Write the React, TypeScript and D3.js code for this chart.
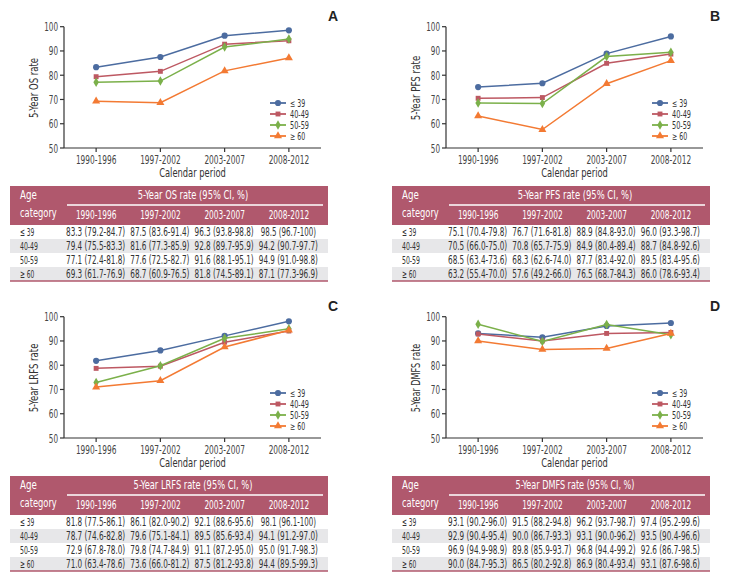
import React from "react";
import * as d3 from "d3";

const CATEGORIES = ["1990-1996", "1997-2002", "2003-2007", "2008-2012"];
const AGE_GROUPS = ["≤ 39", "40-49", "50-59", "≥ 60"];
const Y_TICKS = [50, 60, 70, 80, 90, 100];

const OS_VALUES = [
  [83.3, 87.5, 96.3, 98.5],
  [79.4, 81.6, 92.8, 94.2],
  [77.1, 77.6, 91.6, 94.9],
  [69.3, 68.7, 81.8, 87.1],
];
const OS_CI = [
  ["79.2-84.7", "83.6-91.4", "93.8-98.8", "96.7-100"],
  ["75.5-83.3", "77.3-85.9", "89.7-95.9", "90.7-97.7"],
  ["72.4-81.8", "72.5-82.7", "88.1-95.1", "91.0-98.8"],
  ["61.7-76.9", "60.9-76.5", "74.5-89.1", "77.3-96.9"],
];
const PFS_VALUES = [
  [75.1, 76.7, 88.9, 96.0],
  [70.5, 70.8, 84.9, 88.7],
  [68.5, 68.3, 87.7, 89.5],
  [63.2, 57.6, 76.5, 86.0],
];
const PFS_CI = [
  ["70.4-79.8", "71.6-81.8", "84.8-93.0", "93.3-98.7"],
  ["66.0-75.0", "65.7-75.9", "80.4-89.4", "84.8-92.6"],
  ["63.4-73.6", "62.6-74.0", "83.4-92.0", "83.4-95.6"],
  ["55.4-70.0", "49.2-66.0", "68.7-84.3", "78.6-93.4"],
];
const LRFS_VALUES = [
  [81.8, 86.1, 92.1, 98.1],
  [78.7, 79.6, 89.5, 94.1],
  [72.9, 79.8, 91.1, 95.0],
  [71.0, 73.6, 87.5, 94.4],
];
const LRFS_CI = [
  ["77.5-86.1", "82.0-90.2", "88.6-95.6", "96.1-100"],
  ["74.6-82.8", "75.1-84.1", "85.6-93.4", "91.2-97.0"],
  ["67.8-78.0", "74.7-84.9", "87.2-95.0", "91.7-98.3"],
  ["63.4-78.6", "66.0-81.2", "81.2-93.8", "89.5-99.3"],
];
const DMFS_VALUES = [
  [93.1, 91.5, 96.2, 97.4],
  [92.9, 90.0, 93.1, 93.5],
  [96.9, 89.8, 96.8, 92.6],
  [90.0, 86.5, 86.9, 93.1],
];
const DMFS_CI = [
  ["90.2-96.0", "88.2-94.8", "93.7-98.7", "95.2-99.6"],
  ["90.4-95.4", "86.7-93.3", "90.0-96.2", "90.4-96.6"],
  ["94.9-98.9", "85.9-93.7", "94.4-99.2", "86.7-98.5"],
  ["84.7-95.3", "80.2-92.8", "80.4-93.4", "87.6-98.6"],
];

const COLORS = ["#4c6ca0", "#bd5862", "#7bb04a", "#f37a33"];
const SYMBOLS = [d3.symbolCircle, d3.symbolSquare, d3.symbolDiamond, d3.symbolTriangle];
const SYMBOL_SIZES = [30, 24, 26, 28];
const HEADER = "#b0586d";
const FONT = "'DejaVu Sans Condensed', 'Roboto', sans-serif";

let measureCtx: CanvasRenderingContext2D | null = null;
function measure(str: string, size: number): number {
  if (!measureCtx) {
    const c = document.createElement("canvas");
    measureCtx = c.getContext("2d");
  }
  if (!measureCtx) return str.length * size * 0.55;
  measureCtx.font = `${size}px ${FONT}`;
  return measureCtx.measureText(str).width || str.length * size * 0.55;
}

type TProps = {
  x: number;
  y: number;
  k: number;
  size: number;
  fill?: string;
  anchor?: string;
  rotate?: number;
  children: string;
};

// Text horizontally scaled so that its width is k px per character.
function T({ x, y, k, size, fill = "#333", anchor = "start", rotate = 0, children }: TProps) {
  const natural = measure(children, size);
  const sx = (children.length * k) / natural;
  return (
    <text
      transform={`translate(${x},${y}) rotate(${rotate}) scale(${sx},1)`}
      fontSize={size}
      fill={fill}
      textAnchor={anchor}
    >
      {children}
    </text>
  );
}

type PanelProps = {
  dx: number;
  dy: number;
  letter: string;
  metric: string;
  values: number[][];
  cis: string[][];
};

function Panel({ dx, dy, letter, metric, values, cis }: PanelProps) {
  const x = d3.scalePoint<string>().domain(CATEGORIES).range([64, 321]).padding(0.5);
  const y = d3.scaleLinear().domain([50, 100]).range([148, 26.7]);
  const line = d3
    .line<number>()
    .x((_, i) => x(CATEGORIES[i]) as number)
    .y((v) => y(v));
  const rowTop = 225;
  const rowH = 14;
  return (
    <g transform={`translate(${dx},${dy})`} fontFamily={FONT}>
      <text x={333} y={21} fontFamily="'Liberation Sans', Arial, sans-serif" fontWeight="bold" fontSize={14} textAnchor="middle" fill="#222">
        {letter}
      </text>
      {/* axes */}
      <line x1={64} x2={64} y1={y(100)} y2={y(50)} stroke="#333" strokeWidth={1.2} />
      <line x1={64} x2={321} y1={y(50)} y2={y(50)} stroke="#333" strokeWidth={1.2} />
      {Y_TICKS.map((t) => (
        <g key={t}>
          <line x1={60} x2={64} y1={y(t)} y2={y(t)} stroke="#333" strokeWidth={1.2} />
          <T x={58} y={y(t) + 4.5} k={4.6} size={12} anchor="end" fill="#444">
            {String(t)}
          </T>
        </g>
      ))}
      {CATEGORIES.map((c) => (
        <g key={c}>
          <line x1={x(c) as number} x2={x(c) as number} y1={y(50)} y2={y(50) + 4} stroke="#333" strokeWidth={1.2} />
          <T x={x(c) as number} y={164} k={4.5} size={11.5} anchor="middle" fill="#444">
            {c}
          </T>
        </g>
      ))}
      <T x={192.5} y={177} k={4.45} size={12.5} anchor="middle" fill="#333">
        Calendar period
      </T>
      <T x={38} y={88} rotate={-90} k={4.3} size={12.5} anchor="middle" fill="#333">
        {`5-Year ${metric} rate`}
      </T>
      {/* series */}
      {values.map((vals, si) => (
        <g key={si}>
          <path d={line(vals) as string} fill="none" stroke={COLORS[si]} strokeWidth={1.5} />
          {vals.map((v, i) => (
            <path
              key={i}
              transform={`translate(${x(CATEGORIES[i])},${y(v)})`}
              d={d3.symbol().type(SYMBOLS[si]).size(SYMBOL_SIZES[si])() as string}
              fill={COLORS[si]}
            />
          ))}
        </g>
      ))}
      {/* legend */}
      {AGE_GROUPS.map((g, si) => {
        const ly = 103 + si * 11;
        return (
          <g key={g}>
            <line x1={270} x2={286} y1={ly} y2={ly} stroke={COLORS[si]} strokeWidth={1.8} />
            <path transform={`translate(278,${ly})`} d={d3.symbol().type(SYMBOLS[si]).size(SYMBOL_SIZES[si])() as string} fill={COLORS[si]} />
            <T x={290} y={ly + 3.5} k={3.8} size={10} fill="#333">
              {g}
            </T>
          </g>
        );
      })}
      {/* table */}
      <rect x={10} y={186} width={318} height={39} fill={HEADER} />
      <T x={20} y={199} k={5.6} size={11.5} fill="#fff">Age</T>
      <T x={20} y={217} k={4.6} size={11.5} fill="#fff">category</T>
      <T x={193} y={199} k={4.25} size={11.5} fill="#fff" anchor="middle">
        {`5-Year ${metric} rate (95% CI, %)`}
      </T>
      <line x1={67} x2={323} y1={205} y2={205} stroke="#fff" strokeWidth={1.5} />
      {CATEGORIES.map((c) => (
        <T key={c} x={x(c) as number} y={219} k={4.5} size={11.5} fill="#fff" anchor="middle">
          {c}
        </T>
      ))}
      {AGE_GROUPS.map((g, ri) => (
        <g key={g}>
          <rect x={10} y={rowTop + ri * rowH} width={318} height={rowH} fill={ri % 2 === 1 ? "#e7e7e9" : "#fff"} />
          <T x={20} y={rowTop + ri * rowH + 11} k={3.6} size={11} fill="#333">
            {g}
          </T>
          {values[ri].map((v, ci) => (
            <T key={ci} x={(x(CATEGORIES[ci]) as number) - 0.5} y={rowTop + ri * rowH + 11} k={3.7} size={11.5} fill="#333" anchor="middle">
              {`${v.toFixed(1)} (${cis[ri][ci]})`}
            </T>
          ))}
        </g>
      ))}
      <line x1={10} x2={328} y1={281} y2={281} stroke={HEADER} strokeWidth={1.5} />
    </g>
  );
}

export default function App() {
  return (
    <svg width={730} height={585} style={{ position: "absolute", left: 0, top: 0, background: "#fff" }}>
      <rect width={730} height={585} fill="#fff" />
      <Panel dx={0} dy={0} letter="A" metric="OS" values={OS_VALUES} cis={OS_CI} />
      <Panel dx={382} dy={0} letter="B" metric="PFS" values={PFS_VALUES} cis={PFS_CI} />
      <Panel dx={0} dy={290} letter="C" metric="LRFS" values={LRFS_VALUES} cis={LRFS_CI} />
      <Panel dx={382} dy={290} letter="D" metric="DMFS" values={DMFS_VALUES} cis={DMFS_CI} />
    </svg>
  );
}
